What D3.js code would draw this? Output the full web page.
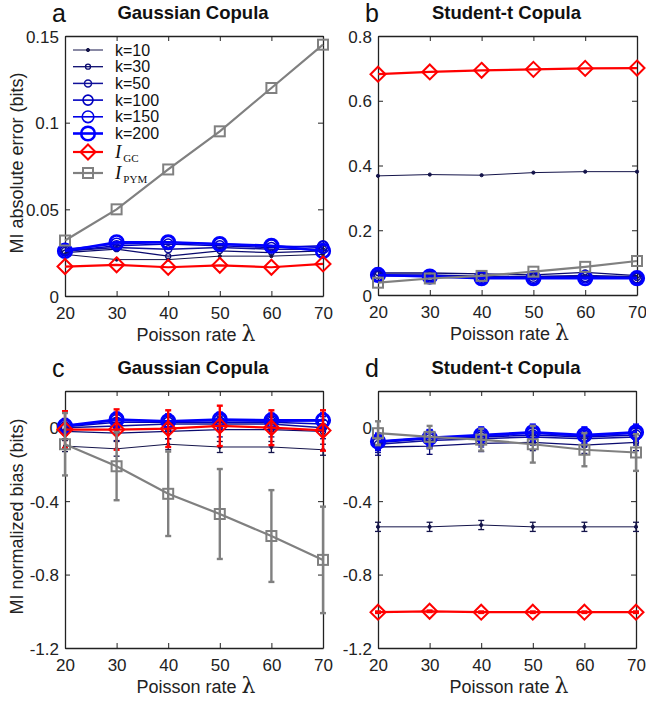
<!DOCTYPE html>
<html><head><meta charset="utf-8">
<script src="https://cdn.jsdelivr.net/npm/d3@7"></script>
<style>
body{margin:0;background:#fff;}
</style></head>
<body><svg id="chart" width="646" height="702" font-family="'Liberation Sans',Arial,Helvetica,sans-serif"></svg>
<script>
// ---------- DATA ----------
const lambdas = [20, 30, 40, 50, 60, 70];
const seriesNames = ["k=10", "k=30", "k=50", "k=100", "k=150", "k=200", "I_GC", "I_PYM"];
const panelLetters = ["a", "b", "c", "d"];
const panelTitles = ["Gaussian Copula", "Student-t Copula", "Gaussian Copula", "Student-t Copula"];
const xTickLabels = ["20", "30", "40", "50", "60", "70"];
const yTicksAbsGauss = [0, 0.05, 0.1, 0.15];
const yTickLabelsAbsGauss = ["0", "0.05", "0.1", "0.15"];
const yTicksAbsStudent = [0, 0.2, 0.4, 0.6, 0.8];
const yTickLabelsAbsStudent = ["0", "0.2", "0.4", "0.6", "0.8"];
const yTicksBias = [-1.2, -0.8, -0.4, 0];
const yTickLabelsBias = ["-1.2", "-0.8", "-0.4", "0"];

// rows follow seriesNames
const absErrGauss = [
  [0.024, 0.021, 0.021, 0.023, 0.023, 0.024],
  [0.025, 0.027, 0.023, 0.026, 0.025, 0.026],
  [0.026, 0.028, 0.027, 0.028, 0.027, 0.027],
  [0.026, 0.029, 0.030, 0.029, 0.028, 0.029],
  [0.027, 0.030, 0.031, 0.030, 0.029, 0.028],
  [0.026, 0.031, 0.031, 0.030, 0.029, 0.026],
  [0.017, 0.018, 0.0166, 0.0177, 0.0166, 0.0185],
  [0.032, 0.050, 0.073, 0.095, 0.120, 0.145]
];
const absErrStudent = [
  [0.368, 0.372, 0.370, 0.378, 0.381, 0.381],
  [0.068, 0.068, 0.065, 0.062, 0.070, 0.060],
  [0.062, 0.062, 0.058, 0.057, 0.060, 0.056],
  [0.060, 0.060, 0.055, 0.055, 0.057, 0.053],
  [0.060, 0.058, 0.053, 0.053, 0.055, 0.052],
  [0.062, 0.057, 0.052, 0.052, 0.052, 0.052],
  [0.682, 0.689, 0.694, 0.697, 0.700, 0.701],
  [0.038, 0.051, 0.059, 0.072, 0.087, 0.105]
];
const biasGauss = [
  [-0.10, -0.115, -0.09, -0.105, -0.105, -0.12],
  [-0.02, -0.03, -0.02, -0.01, -0.01, -0.02],
  [0.0, 0.01, 0.02, 0.02, 0.02, 0.0],
  [0.005, 0.03, 0.03, 0.03, 0.03, 0.02],
  [0.01, 0.04, 0.035, 0.04, 0.035, 0.04],
  [0.01, 0.045, 0.035, 0.045, 0.04, 0.04],
  [-0.01, -0.01, -0.005, 0.01, 0.0, -0.015],
  [-0.09, -0.21, -0.36, -0.47, -0.59, -0.72]
];
const biasGaussErr = [
  [0.03, 0.04, 0.03, 0.03, 0.03, 0.03],
  [0.04, 0.04, 0.04, 0.04, 0.04, 0.04],
  [0.04, 0.04, 0.04, 0.04, 0.04, 0.04],
  [0.04, 0.04, 0.04, 0.04, 0.04, 0.04],
  [0.04, 0.04, 0.04, 0.04, 0.04, 0.04],
  [0.04, 0.04, 0.04, 0.04, 0.04, 0.04],
  [0.10, 0.11, 0.10, 0.11, 0.095, 0.11],
  [0.17, 0.185, 0.23, 0.245, 0.25, 0.29]
];
const biasStudent = [
  [-0.54, -0.54, -0.53, -0.54, -0.54, -0.54],
  [-0.105, -0.10, -0.085, -0.08, -0.095, -0.08],
  [-0.09, -0.07, -0.06, -0.05, -0.06, -0.05],
  [-0.08, -0.06, -0.05, -0.04, -0.05, -0.04],
  [-0.075, -0.055, -0.045, -0.03, -0.045, -0.03],
  [-0.075, -0.055, -0.04, -0.025, -0.04, -0.025],
  [-1.005, -1.0, -1.005, -1.005, -1.005, -1.005],
  [-0.03, -0.05, -0.065, -0.09, -0.12, -0.135]
];
const biasStudentErr = [
  [0.025, 0.025, 0.025, 0.025, 0.025, 0.025],
  [0.045, 0.045, 0.045, 0.045, 0.045, 0.045],
  [0.045, 0.045, 0.045, 0.045, 0.045, 0.045],
  [0.045, 0.045, 0.045, 0.045, 0.045, 0.045],
  [0.045, 0.045, 0.045, 0.045, 0.045, 0.045],
  [0.045, 0.045, 0.045, 0.045, 0.045, 0.045],
  [0.004, 0.004, 0.004, 0.004, 0.004, 0.004],
  [0.065, 0.06, 0.06, 0.1, 0.09, 0.1]
];

// ---------- STYLE ----------
const colors = ["#14144a", "#0a0a6e", "#10109a", "#0000c0", "#0000e6", "#0000ff", "#ff0000", "#808080"];
const lineW = [1, 1.3, 1.5, 1.6, 1.6, 2.6, 2.2, 2.2];
const markR = [1.6, 2.5, 3.5, 5, 5.8, 6.8, 7.5, 5];
const serif = "'Liberation Serif','Times New Roman',serif";

const svg = d3.select("#chart");

const panels = [
  {x0: 65, x1: 323, y0: 36, y1: 296, dom: [0, 0.15], ticks: yTicksAbsGauss, tl: yTickLabelsAbsGauss, data: absErrGauss, err: null, ylabel: "MI absolute error (bits)"},
  {x0: 378, x1: 637, y0: 36, y1: 295, dom: [0, 0.8], ticks: yTicksAbsStudent, tl: yTickLabelsAbsStudent, data: absErrStudent, err: null, ylabel: null},
  {x0: 65, x1: 323, y0: 391, y1: 648, dom: [-1.2, 0.2], ticks: yTicksBias, tl: yTickLabelsBias, data: biasGauss, err: biasGaussErr, ylabel: "MI normalized bias (bits)"},
  {x0: 378, x1: 636, y0: 391, y1: 648, dom: [-1.2, 0.2], ticks: yTicksBias, tl: yTickLabelsBias, data: biasStudent, err: biasStudentErr, ylabel: null}
];

function drawMarker(g, i, cx, cy) {
  const c = colors[i];
  if (i === 0) {
    g.append("circle").attr("cx", cx).attr("cy", cy).attr("r", markR[i]).attr("fill", c).attr("stroke", c);
  } else if (i < 6) {
    g.append("circle").attr("cx", cx).attr("cy", cy).attr("r", markR[i]).attr("fill", "none").attr("stroke", c).attr("stroke-width", lineW[i]);
  } else if (i === 6) {
    const r = markR[i];
    g.append("path").attr("d", `M${cx},${cy - r}L${cx + r},${cy}L${cx},${cy + r}L${cx - r},${cy}Z`)
      .attr("fill", "none").attr("stroke", c).attr("stroke-width", 2);
  } else {
    const r = markR[i];
    g.append("rect").attr("x", cx - r).attr("y", cy - r).attr("width", 2 * r).attr("height", 2 * r)
      .attr("fill", "none").attr("stroke", c).attr("stroke-width", 2);
  }
}

panels.forEach((p, pi) => {
  const x = d3.scaleLinear().domain([20, 70]).range([p.x0, p.x1]);
  const y = d3.scaleLinear().domain(p.dom).range([p.y1, p.y0]);
  const g = svg.append("g");

  // axes (inward ticks, box)
  const bottom = g.append("g").attr("transform", `translate(0,${p.y1})`)
    .call(d3.axisBottom(x).tickValues(lambdas).tickFormat((d, i) => xTickLabels[i]).tickSizeInner(-5).tickSizeOuter(0).tickPadding(8));
  g.append("g").attr("transform", `translate(0,${p.y0})`)
    .call(d3.axisTop(x).tickValues(lambdas).tickFormat("").tickSizeInner(-5).tickSizeOuter(0));
  const left = g.append("g").attr("transform", `translate(${p.x0},0)`)
    .call(d3.axisLeft(y).tickValues(p.ticks).tickFormat((d, i) => p.tl[i]).tickSizeInner(-5).tickSizeOuter(0).tickPadding(6));
  g.append("g").attr("transform", `translate(${p.x1},0)`)
    .call(d3.axisRight(y).tickValues(p.ticks).tickFormat("").tickSizeInner(-5).tickSizeOuter(0));
  g.selectAll(".domain").attr("stroke", "#222").attr("stroke-width", 1.3);
  g.selectAll(".tick line").attr("stroke", "#222");
  g.selectAll(".tick text").attr("font-size", 17).attr("fill", "#222")
    .attr("font-family", "'Liberation Sans',Arial,sans-serif");
  bottom.selectAll(".tick text").attr("dy", "0.9em");
  left.selectAll(".tick text").attr("dy", "0.36em");

  // x label
  const xl = g.append("text").attr("x", (p.x0 + p.x1) / 2 + 2).attr("y", p.y1 + 45)
    .attr("text-anchor", "middle").attr("font-size", 18).attr("fill", "#222");
  xl.append("tspan").text("Poisson rate ");
  xl.append("tspan").attr("font-family", "'DejaVu Serif','Liberation Serif',serif").attr("font-size", 22).text("λ");

  if (p.ylabel) {
    g.append("text").attr("transform", `translate(23,${(p.y0 + p.y1) / 2 - 3}) rotate(-90)`)
      .attr("text-anchor", "middle").attr("font-size", 18).attr("fill", "#222").text(p.ylabel);
  }

  // title & letter
  const ty = p.y0 - 17;
  g.append("text").attr("x", (p.x0 + p.x1) / 2 - 1).attr("y", ty).attr("text-anchor", "middle")
    .attr("font-size", 18.5).attr("font-weight", "bold").attr("fill", "#111").text(panelTitles[pi]);
  g.append("text").attr("x", p.x0 - 13).attr("y", ty + 3).attr("font-size", 25).attr("fill", "#111").text(panelLetters[pi]);

  // series
  p.data.forEach((vals, si) => {
    const c = colors[si];
    const sg = g.append("g");
    const pts = vals.map((v, k) => [x(lambdas[k]), y(v)]);
    sg.append("path").attr("d", d3.line()(pts)).attr("fill", "none").attr("stroke", c).attr("stroke-width", lineW[si]);
    if (p.err) {
      vals.forEach((v, k) => {
        const e = p.err[si][k];
        const cx = x(lambdas[k]);
        const yt = y(v + e), yb = y(v - e);
        const ew = si >= 6 ? 2.4 : 1.3;
        sg.append("line").attr("x1", cx).attr("x2", cx).attr("y1", yt).attr("y2", yb).attr("stroke", c).attr("stroke-width", ew);
        sg.append("line").attr("x1", cx - 3).attr("x2", cx + 3).attr("y1", yt).attr("y2", yt).attr("stroke", c).attr("stroke-width", ew);
        sg.append("line").attr("x1", cx - 3).attr("x2", cx + 3).attr("y1", yb).attr("y2", yb).attr("stroke", c).attr("stroke-width", ew);
      });
    }
    pts.forEach(([cx, cy]) => drawMarker(sg, si, cx, cy));
  });

  // legend in panel a
  if (pi === 0) {
    const lg = g.append("g");
    seriesNames.forEach((name, si) => {
      const ly = si < 6 ? 50 + si * 16.7 : 152 + (si - 6) * 21;
      lg.append("line").attr("x1", 73).attr("x2", 103).attr("y1", ly).attr("y2", ly)
        .attr("stroke", colors[si]).attr("stroke-width", lineW[si]);
      drawMarker(lg, si, 88, ly);
      if (si < 6) {
        lg.append("text").attr("x", 115).attr("y", ly + 5.5).attr("font-size", 16).attr("fill", "#111").text(name);
      } else {
        const t = lg.append("text").attr("x", 115).attr("y", ly + 6).attr("fill", "#111");
        const parts = name.split("_");
        t.append("tspan").attr("font-family", serif).attr("font-style", "italic").attr("font-size", 19).text(parts[0]);
        t.append("tspan").attr("font-family", serif).attr("font-size", 11).attr("dx", 2).attr("dy", 4).text(parts[1]);
      }
    });
  }
});
</script></body></html>
